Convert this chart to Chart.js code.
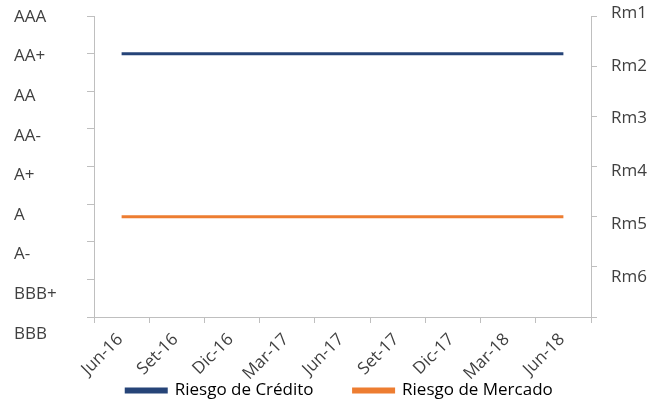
<!DOCTYPE html>
<html lang="es">
<head>
  <meta charset="utf-8">
  <title>Riesgo de Crédito y Mercado</title>
  <script src="https://cdn.jsdelivr.net/npm/chart.js"></script>
  <style>
    body { margin: 0; background: #fff; }
    #chart { display: block; }
  </style>
</head>
<body>
<canvas id="chart" width="665" height="402"></canvas>
<script>
  // quarters on the x axis
  const quarters = ['Jun-16', 'Set-16', 'Dic-16', 'Mar-17', 'Jun-17', 'Set-17', 'Dic-17', 'Mar-18', 'Jun-18'];
  // left scale (credit rating) and right scale (market risk)
  const ratingLabels = ['AAA', 'AA+', 'AA', 'AA-', 'A+', 'A', 'A-', 'BBB+', 'BBB'];
  const marketLabels = ['Rm1', 'Rm2', 'Rm3', 'Rm4', 'Rm5', 'Rm6'];
  // series, as positions in the label lists above
  const creditRisk = ['AA+', 'AA+', 'AA+', 'AA+', 'AA+', 'AA+', 'AA+', 'AA+', 'AA+'];
  const marketRisk = ['Rm5', 'Rm5', 'Rm5', 'Rm5', 'Rm5', 'Rm5', 'Rm5', 'Rm5', 'Rm5'];

  const axisGrey = '#bfbfbf';
  const textGrey = '#404040';
  const font = { family: 'Open Sans', size: 17 };

  const ctx = document.getElementById('chart').getContext('2d');
  new Chart(ctx, {
    type: 'line',
    data: {
      labels: quarters,
      datasets: [{
        label: 'Riesgo de Crédito',
        data: creditRisk.map(r => ratingLabels.indexOf(r)),
        borderColor: '#264478',
        backgroundColor: '#264478',
        borderWidth: 3,
        pointRadius: 0,
        yAxisID: 'y'
      }, {
        label: 'Riesgo de Mercado',
        data: marketRisk.map(r => marketLabels.indexOf(r)),
        borderColor: '#ed7d31',
        backgroundColor: '#ed7d31',
        borderWidth: 3,
        pointRadius: 0,
        yAxisID: 'y2'
      }]
    },
    options: {
      responsive: false,
      animation: false,
      layout: { padding: { left: 14, right: 0, top: 16, bottom: 0 } },
      plugins: {
        tooltip: { enabled: false },
        legend: {
          position: 'bottom',
          // wide gap between the two items; the box height is capped so it sits low
          maxHeight: 60,
          labels: {
            boxWidth: 40,
            boxHeight: 3,
            padding: 40,
            color: '#000',
            font: font
          }
        }
      },
      scales: {
        x: {
          offset: true,
          grid: { offset: true, drawOnChartArea: false, color: axisGrey, tickLength: 6 },
          border: { color: axisGrey },
          // mirror keeps the rotated labels from being clipped to the short axis box
          ticks: { mirror: true, padding: -27, labelOffset: 13, minRotation: 45, maxRotation: 45, autoSkip: false, color: textGrey, font: font },
          afterFit: s => { s.height = 25; }
        },
        // tick marks of the rating scale
        y: {
          position: 'left',
          weight: 0,
          reverse: true,
          min: 0,
          max: ratingLabels.length - 1,
          ticks: { display: false, stepSize: 1 },
          grid: { drawOnChartArea: false, color: axisGrey, tickLength: 7 },
          border: { color: axisGrey },
          afterFit: s => { s.width = 8; }
        },
        // rating text, spaced a little wider than the ticks
        yLab: {
          position: 'left',
          weight: 1,
          reverse: true,
          min: -0.025,
          max: 7.575,
          afterBuildTicks: s => { s.ticks = ratingLabels.map((l, i) => ({ value: i })); },
          ticks: { autoSkip: false, crossAlign: 'far', padding: 2, color: textGrey, font: font, callback: v => ratingLabels[v] },
          grid: { display: false, drawTicks: false },
          border: { display: false },
          afterFit: s => { s.width = 72; }
        },
        y2: {
          position: 'right',
          weight: 0,
          reverse: true,
          min: 0,
          max: marketLabels.length,
          ticks: { display: false, stepSize: 1 },
          grid: { drawOnChartArea: false, color: axisGrey, tickLength: 6 },
          border: { color: axisGrey },
          afterFit: s => { s.width = 6; }
        },
        y2Lab: {
          position: 'right',
          weight: 1,
          reverse: true,
          min: 0.057,
          max: 5.757,
          afterBuildTicks: s => { s.ticks = marketLabels.map((l, i) => ({ value: i })); },
          ticks: { autoSkip: false, padding: 4, color: textGrey, font: font, callback: v => marketLabels[v] },
          grid: { display: false, drawTicks: true, tickLength: 10 },
          border: { display: false },
          afterFit: s => { s.width = 68; }
        }
      }
    }
  });
</script>
</body>
</html>
